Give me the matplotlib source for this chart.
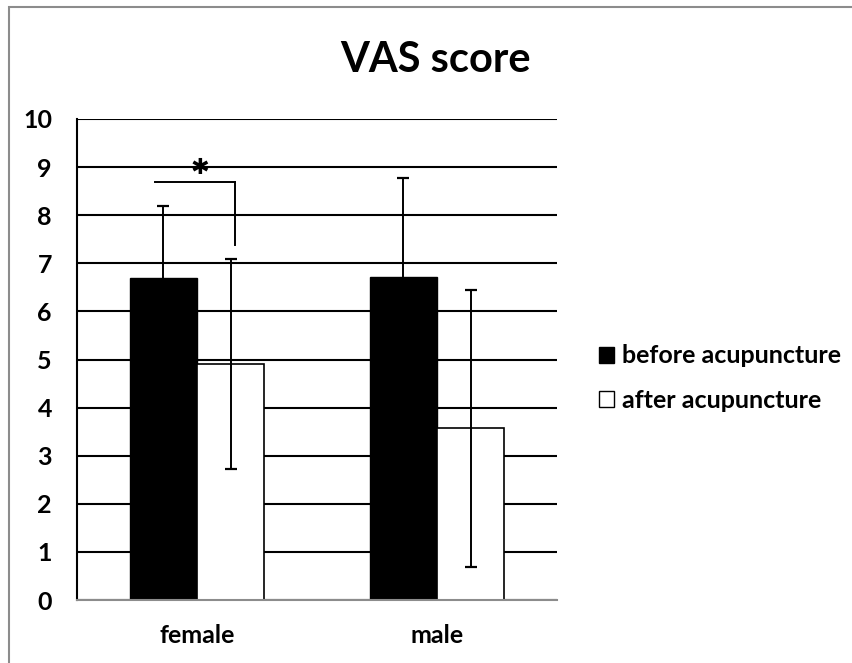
import matplotlib
matplotlib.use("Agg")
import matplotlib.pyplot as plt
from matplotlib.patches import Patch
from matplotlib.lines import Line2D
import numpy as np

plt.rcParams['font.family'] = ['Lato', 'DejaVu Sans']
plt.rcParams['font.weight'] = 'bold'
plt.rcParams['savefig.bbox'] = 'standard'

categories = ["female", "male"]
series_names = ["before acupuncture", "after acupuncture"]
before_mean = [6.7, 6.71]
before_err = [1.5, 2.06]
after_mean = [4.9, 3.57]
after_err = [2.18, 2.88]
yticks = [0, 1, 2, 3, 4, 5, 6, 7, 8, 9, 10]

fig = plt.figure(figsize=(8.53, 6.63), dpi=100)
fig.patch.set_facecolor('white')
# chart border (Excel style): only left and top edges fall inside the image
bx, by = 8.5/853, 1 - 6.5/663
fig.add_artist(Line2D([bx, bx, 1.0], [0.0, by, by], transform=fig.transFigure,
                      color='#8c8c8c', linewidth=1.5, solid_joinstyle='miter'))

ax = fig.add_axes([77/853, 1 - 600/663, (557 - 77)/853, (600 - 119)/663])
x = np.arange(len(categories))
w = 0.28

ax.bar(x - w/2, before_mean, w, color='black', edgecolor='black', linewidth=1.0, zorder=2,
       label=series_names[0])
ax.bar(x + w/2, after_mean, w, color='white', edgecolor='black', linewidth=1.2, zorder=2,
       label=series_names[1])
ax.errorbar(x - w/2, before_mean, yerr=before_err, fmt='none', ecolor='black', elinewidth=1.4,
            capsize=4.5, capthick=1.6, zorder=3)
ax.errorbar(x + w/2, after_mean, yerr=after_err, fmt='none', ecolor='black', elinewidth=1.4,
            capsize=4.5, capthick=1.6, zorder=3)

ax.set_xlim(-0.5, 1.5)
ax.set_ylim(0, 10)
ax.set_yticks(yticks)
ax.set_yticklabels([str(t) for t in yticks], fontsize=18, fontweight='bold')
ax.set_xticks(x)
ax.set_xticklabels(categories, fontsize=18, fontweight='bold')
ax.tick_params(axis='both', length=0)
ax.tick_params(axis='y', pad=18)
ax.tick_params(axis='x', pad=17)
ax.yaxis.grid(True, color='black', linewidth=1.5, zorder=0)
ax.set_axisbelow(True)
for s in ['top', 'right']:
    ax.spines[s].set_visible(False)
ax.spines['left'].set_color('black')
ax.spines['left'].set_linewidth(1.5)
ax.spines['bottom'].set_color('#8c8c8c')
ax.spines['bottom'].set_linewidth(1.5)

# significance bracket
ax.plot([-0.175, 0.158], [8.68, 8.68], color='black', linewidth=1.4, zorder=4)
ax.plot([0.158, 0.158], [8.68, 7.38], color='black', linewidth=1.4, zorder=4)
ax.text(0.012, 8.98, "\u2731", ha='center', va='center', fontsize=16,
        family='DejaVu Sans', fontweight='bold', zorder=5)

fig.text(436/853, 1 - 72/663, "VAS score", ha='center', va='baseline', fontsize=30, fontweight='bold')

handles = [Patch(facecolor='black', edgecolor='black'),
           Patch(facecolor='white', edgecolor='black')]
fig.legend(handles, series_names, loc='center left', bbox_to_anchor=(599/853, 1 - 378/663),
           frameon=False, handlelength=0.6, handleheight=0.6, borderpad=0, borderaxespad=0,
           handletextpad=0.3, labelspacing=0.85, prop={'weight': 'bold', 'size': 18})

fig.savefig("out.png", dpi=100)
